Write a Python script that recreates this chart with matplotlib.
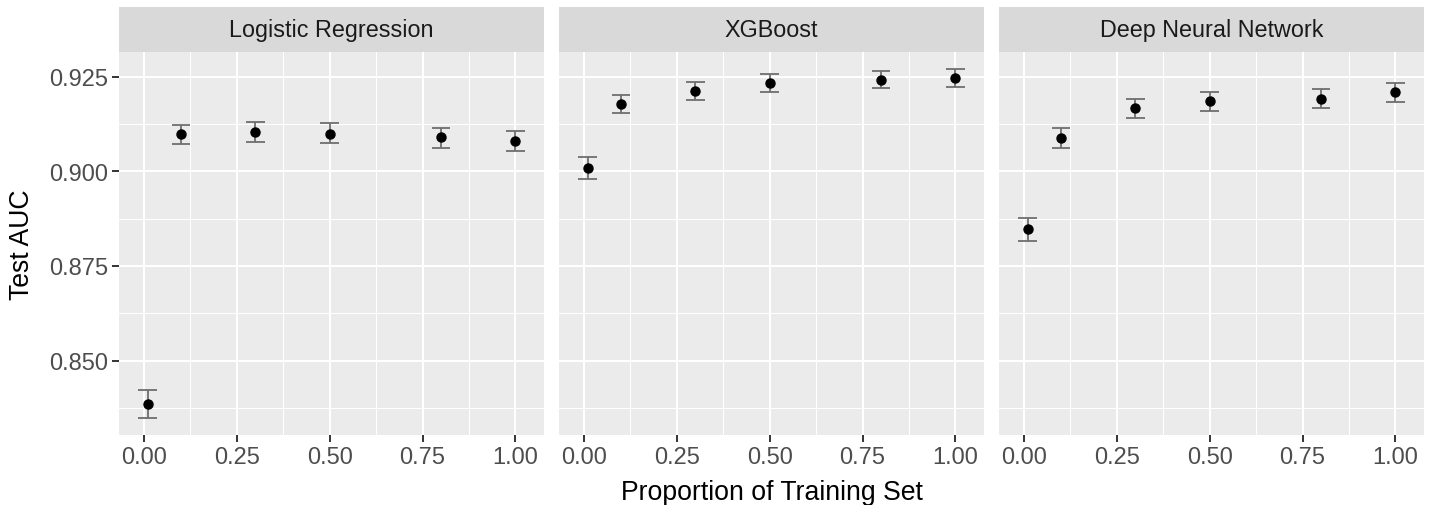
import numpy as np
import matplotlib
matplotlib.use("Agg")
import matplotlib.pyplot as plt
from matplotlib.patches import Rectangle

plt.rcParams['font.family'] = ['Liberation Sans', 'DejaVu Sans']

# data
models = ['Logistic Regression', 'XGBoost', 'Deep Neural Network']
props = [0.01, 0.1, 0.3, 0.5, 0.8, 1.0]

lr_auc = [0.8385, 0.9099, 0.9104, 0.9100, 0.9090, 0.9080]
lr_lo = [0.8349, 0.9073, 0.9078, 0.9075, 0.9063, 0.9053]
lr_hi = [0.8423, 0.9124, 0.9130, 0.9127, 0.9116, 0.9107]

xgb_auc = [0.9009, 0.9179, 0.9212, 0.9235, 0.9243, 0.9247]
xgb_lo = [0.8981, 0.9155, 0.9188, 0.9211, 0.9220, 0.9223]
xgb_hi = [0.9037, 0.9203, 0.9236, 0.9259, 0.9267, 0.9270]

dnn_auc = [0.8847, 0.9089, 0.9167, 0.9186, 0.9193, 0.9209]
dnn_lo = [0.8816, 0.9063, 0.9141, 0.9161, 0.9167, 0.9185]
dnn_hi = [0.8877, 0.9116, 0.9193, 0.9211, 0.9218, 0.9234]

series = [(lr_auc, lr_lo, lr_hi), (xgb_auc, xgb_lo, xgb_hi), (dnn_auc, dnn_lo, dnn_hi)]

cap_w = 0.05
W, H = 1433, 506
fig = plt.figure(figsize=(W / 100, H / 100), dpi=100)

# ggplot-like limits: 5% expansion of the data range
x_all = np.array(props)
xmin, xmax = x_all.min() - cap_w / 2, x_all.max() + cap_w / 2
xpad = 0.05 * (xmax - xmin)
y_all_lo = min(min(s[1]) for s in series)
y_all_hi = max(max(s[2]) for s in series)
ypad = 0.05 * (y_all_hi - y_all_lo)

lefts = [119, 559, 999]
pw = 425
top, bottom, strip_top = 53, 436, 8

for i, (name, (auc, lo, hi)) in enumerate(zip(models, series)):
    ax = fig.add_axes([lefts[i] / W, 1 - bottom / H, pw / W, (bottom - top) / H])
    ax.set_facecolor('#EBEBEB')
    for sp in ax.spines.values():
        sp.set_visible(False)
    ax.set_xlim(xmin - xpad, xmax + xpad)
    ax.set_ylim(y_all_lo - ypad, y_all_hi + ypad)

    ax.set_xticks([0, 0.25, 0.5, 0.75, 1.0])
    ax.set_xticklabels(['0.00', '0.25', '0.50', '0.75', '1.00'])
    ax.set_xticks([0.125, 0.375, 0.625, 0.875], minor=True)
    ax.set_yticks([0.850, 0.875, 0.900, 0.925])
    ax.set_yticks([0.8375, 0.8625, 0.8875, 0.9125], minor=True)
    ax.grid(which='major', color='white', linewidth=1.5)
    ax.grid(which='minor', color='white', linewidth=0.75)
    ax.set_axisbelow(True)

    ax.tick_params(axis='x', which='major', length=5, width=1.4, color='#333333',
                   labelsize=17, labelcolor='#4D4D4D', pad=3)
    ax.tick_params(which='minor', length=0)
    if i == 0:
        ax.set_yticklabels(['0.850', '0.875', '0.900', '0.925'])
        ax.tick_params(axis='y', which='major', length=5, width=1.4, color='#333333',
                       labelsize=17, labelcolor='#4D4D4D', pad=3)
    else:
        ax.tick_params(axis='y', which='major', length=0, labelleft=False)

    x = np.array(props)
    ax.vlines(x, lo, hi, color='#6E6E6E', linewidth=1.3, zorder=3)
    ax.hlines(lo, x - cap_w / 2, x + cap_w / 2, color='#6E6E6E', linewidth=1.3, zorder=3)
    ax.hlines(hi, x - cap_w / 2, x + cap_w / 2, color='#6E6E6E', linewidth=1.3, zorder=3)
    ax.plot(x, auc, 'o', color='black', markersize=6.5, zorder=4)

    # strip
    sax = fig.add_axes([lefts[i] / W, 1 - top / H, pw / W, (top - strip_top) / H])
    sax.set_axis_off()
    sax.add_patch(Rectangle((0, 0), 1, 1, transform=sax.transAxes,
                            facecolor='#D9D9D9', edgecolor='none'))
    sax.text(0.5, 0.5, name, ha='center', va='center', fontsize=16.8,
             color='#1A1A1A', transform=sax.transAxes)

fig.text((lefts[0] + lefts[2] + pw) / 2 / W, 1 - 493 / H, 'Proportion of Training Set',
         ha='center', va='center', fontsize=19.2, color='black')
fig.text(22 / W, 1 - (top + bottom) / 2 / H, 'Test AUC', rotation=90,
         ha='center', va='center', fontsize=19.2, color='black')

fig.savefig('out.png', dpi=100, facecolor='white')
